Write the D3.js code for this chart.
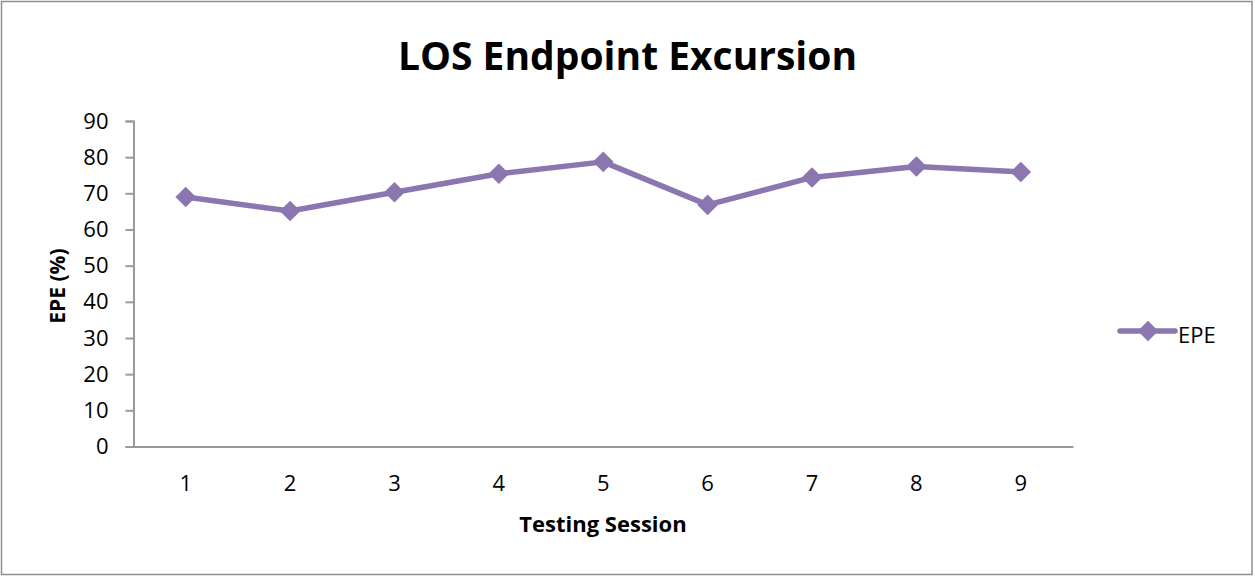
<!DOCTYPE html>
<head>
    <script src="https://d3js.org/d3.v7.min.js"></script>
</head>
<body style="margin:0; background:#fff">
    <svg width="1255" height="577"></svg>
    <script>
        // data
        var sessions = ["1", "2", "3", "4", "5", "6", "7", "8", "9"];
        var epe = [69, 65.1, 70.3, 75.4, 78.7, 66.8, 74.4, 77.4, 75.9];
        var yTicks = [0, 10, 20, 30, 40, 50, 60, 70, 80, 90];

        var LINE_COLOR = "#8c76b0";
        var FONT = "'Open Sans', sans-serif";

        var svg = d3.select("svg");

        // outer chart frame
        svg.append("rect")
            .attr("x", 1.5).attr("y", 1.5)
            .attr("width", 1250.5).attr("height", 573)
            .style("fill", "#fff")
            .style("stroke", "#8e8e8e")
            .style("stroke-width", 1.5);

        var x = d3.scaleBand().domain(sessions).range([133.5, 1073]);
        var y = d3.scaleLinear().domain([0, 90]).range([446.5, 121]);

        // y axis
        var yAxis = svg.append("g")
            .attr("transform", "translate(133.5,0)")
            .call(d3.axisLeft(y).tickValues(yTicks).tickSize(8).tickPadding(17));
        yAxis.select(".domain").style("stroke", "#9a9a9a").style("stroke-width", 2);
        yAxis.selectAll(".tick line").style("stroke", "#9a9a9a").style("stroke-width", 2);
        yAxis.selectAll(".tick text")
            .style("font-family", FONT).style("font-size", "22px").style("fill", "#000");

        // x axis
        var xAxis = svg.append("g")
            .attr("transform", "translate(0,446.5)")
            .call(d3.axisBottom(x).tickSize(0).tickPadding(29).tickSizeOuter(0));
        xAxis.select(".domain").style("stroke", "#9a9a9a").style("stroke-width", 2);
        xAxis.selectAll(".tick text")
            .style("font-family", FONT).style("font-size", "22px").style("fill", "#000");

        // line
        var line = d3.line()
            .x(function(d, i) { return x(sessions[i]) + x.bandwidth() / 2; })
            .y(function(d) { return y(d); });

        svg.append("path")
            .datum(epe)
            .attr("d", line)
            .style("fill", "none")
            .style("stroke", LINE_COLOR)
            .style("stroke-width", 5.5)
            .style("stroke-linejoin", "round");

        var diamond = d3.symbol().type(d3.symbolDiamond2).size(270);

        svg.append("g")
            .selectAll("path")
            .data(epe)
            .enter().append("path")
            .attr("transform", function(d, i) {
                return "translate(" + (x(sessions[i]) + x.bandwidth() / 2) + "," + y(d) + ")";
            })
            .attr("d", diamond)
            .style("fill", LINE_COLOR);

        // title
        svg.append("text")
            .attr("x", 627.5).attr("y", 70)
            .attr("text-anchor", "middle")
            .style("font-family", FONT).style("font-weight", "bold").style("font-size", "39px")
            .text("LOS Endpoint Excursion");

        svg.append("text")
            .attr("x", 603).attr("y", 532)
            .attr("text-anchor", "middle")
            .style("font-family", FONT).style("font-weight", "bold").style("font-size", "22px")
            .text("Testing Session");

        svg.append("text")
            .attr("transform", "translate(65,286) rotate(-90)")
            .attr("text-anchor", "middle")
            .style("font-family", FONT).style("font-weight", "bold").style("font-size", "21px")
            .text("EPE (%)");

        // legend
        var lg = svg.append("g").attr("transform", "translate(1120,331)");
        lg.append("line")
            .attr("x1", 0).attr("x2", 55)
            .style("stroke", LINE_COLOR).style("stroke-width", 5.5).style("stroke-linecap", "round");
        lg.append("path")
            .attr("transform", "translate(28,0)")
            .attr("d", diamond)
            .style("fill", LINE_COLOR);
        lg.append("text")
            .attr("x", 58).attr("y", 12)
            .style("font-family", FONT).style("font-size", "22px")
            .text("EPE");
    </script>
</body>
